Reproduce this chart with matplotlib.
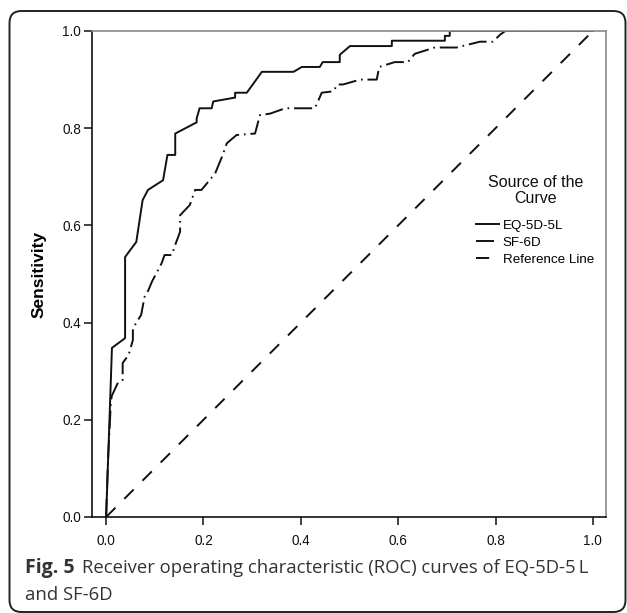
import numpy as np
import matplotlib
matplotlib.use("Agg")
import matplotlib.pyplot as plt
from matplotlib.lines import Line2D
from matplotlib.patches import FancyBboxPatch
from matplotlib.transforms import IdentityTransform

plt.rcParams['font.family'] = ['Liberation Sans', 'DejaVu Sans']
plt.rcParams['lines.scale_dashes'] = False

# ROC curve points (1 - specificity, sensitivity)
eq_fpr = [0.000, 0.012, 0.039, 0.039, 0.062, 0.075, 0.086, 0.117, 0.126, 0.142,
          0.142, 0.186, 0.186, 0.192, 0.217, 0.220, 0.265, 0.265, 0.289, 0.320,
          0.385, 0.402, 0.439, 0.445, 0.480, 0.480, 0.501, 0.587, 0.587, 0.696,
          0.696, 0.706, 0.706, 1.000]
eq_tpr = [0.000, 0.348, 0.368, 0.535, 0.566, 0.652, 0.673, 0.693, 0.745, 0.745,
          0.789, 0.812, 0.820, 0.841, 0.841, 0.855, 0.863, 0.873, 0.873, 0.916,
          0.916, 0.926, 0.926, 0.936, 0.936, 0.951, 0.969, 0.969, 0.980, 0.980,
          0.990, 0.990, 1.000, 1.000]

sf_fpr = [0.000, 0.004, 0.010, 0.012, 0.025, 0.034, 0.034, 0.046, 0.055, 0.055,
          0.072, 0.079, 0.087, 0.094, 0.114, 0.120, 0.135, 0.142, 0.152, 0.152,
          0.172, 0.183, 0.196, 0.224, 0.238, 0.248, 0.268, 0.306, 0.316, 0.337,
          0.368, 0.429, 0.443, 0.467, 0.475, 0.487, 0.522, 0.556, 0.561, 0.593,
          0.620, 0.634, 0.675, 0.720, 0.768, 0.795, 0.809, 0.820, 1.000]
sf_tpr = [0.000, 0.120, 0.240, 0.250, 0.278, 0.282, 0.317, 0.333, 0.364, 0.388,
          0.416, 0.453, 0.467, 0.484, 0.522, 0.539, 0.539, 0.560, 0.587, 0.621,
          0.642, 0.673, 0.673, 0.707, 0.741, 0.769, 0.786, 0.789, 0.827, 0.830,
          0.841, 0.841, 0.873, 0.876, 0.890, 0.890, 0.900, 0.900, 0.926, 0.936,
          0.936, 0.953, 0.966, 0.966, 0.978, 0.978, 0.992, 1.000, 1.000]

ref_x = [0.0, 1.0]
ref_y = [0.0, 1.0]

ticks = [0.0, 0.2, 0.4, 0.6, 0.8, 1.0]
tick_labels = ["0.0", "0.2", "0.4", "0.6", "0.8", "1.0"]

W, H = 627, 613
LC = "#111111"
LW = 1.4
SF_DASH = (13, 3.5, 1.2, 3.5)
REF_DASH = (9.5, 9)

fig = plt.figure(figsize=(W / 100, H / 100), dpi=100)
ax = fig.add_axes([92 / W, 1 - 517 / H, (606 - 92) / W, (517 - 31) / H])

ax.plot(eq_fpr, eq_tpr, color=LC, lw=LW)
ax.plot(sf_fpr, sf_tpr, color=LC, lw=LW, dashes=SF_DASH)
ax.plot(ref_x, ref_y, color=LC, lw=LW, dashes=REF_DASH)

ax.set_xlim(-0.029, 1.027)
ax.set_ylim(0, 1)
ax.set_xticks(ticks)
ax.set_xticklabels(tick_labels)
ax.set_yticks(ticks)
ax.set_yticklabels(tick_labels)
ax.tick_params(direction="out", length=6, width=1.1, labelsize=9.8,
               colors=LC)
ax.tick_params(axis="x", pad=6)
ax.tick_params(axis="y", pad=2)
for s in ["left", "bottom"]:
    ax.spines[s].set_linewidth(1.2)
    ax.spines[s].set_color(LC)
for s in ["top", "right"]:
    ax.spines[s].set_linewidth(1.2)
    ax.spines[s].set_color("#8a8a8a")

ax.set_ylabel("Sensitivity", fontsize=12.5, fontweight="bold")
ax.yaxis.set_label_coords((47 - 92) / (606 - 92), 0.5)

# legend: title as separate text so the spacing matches
fig.text(536 / W, 1 - 183 / H, "Source of the", fontsize=11.5, ha="center",
         va="center", color=LC)
fig.text(536 / W, 1 - 198.5 / H, "Curve", fontsize=11.5, ha="center",
         va="center", color=LC)
handles = [
    Line2D([], [], color=LC, lw=LW),
    Line2D([], [], color=LC, lw=LW, dashes=SF_DASH),
    Line2D([], [], color=LC, lw=LW, dashes=REF_DASH),
]
ax.legend(handles, ["EQ-5D-5L", "SF-6D", "Reference Line"], frameon=False,
          loc="upper left", bbox_to_anchor=(476 / W, 1 - 219.5 / H),
          bbox_transform=fig.transFigure, borderpad=0, borderaxespad=0,
          handlelength=1.75, handletextpad=0.25, labelspacing=0.35,
          fontsize=9.6)

# outer rounded border
border = FancyBboxPatch((9.5, 1), 616, H - 12, boxstyle="round,pad=0,rounding_size=12",
                        transform=IdentityTransform(), fill=False,
                        edgecolor="#222222", lw=1.4)
fig.patches.append(border)

# caption
cap_col = "#333333"
fig.text(25 / W, 1 - 568 / H, "Fig. 5", fontsize=14, fontweight="bold",
         family="Open Sans", color=cap_col, va="center")
fig.text(82 / W, 1 - 568 / H,
         "Receiver operating characteristic (ROC) curves of EQ-5D-5\u2009L",
         fontsize=13.3, family="Open Sans", color=cap_col, va="center")
fig.text(25 / W, 1 - 595 / H, "and SF-6D", fontsize=13.3, family="Open Sans",
         color=cap_col, va="center")

fig.savefig("out.png", dpi=100)
